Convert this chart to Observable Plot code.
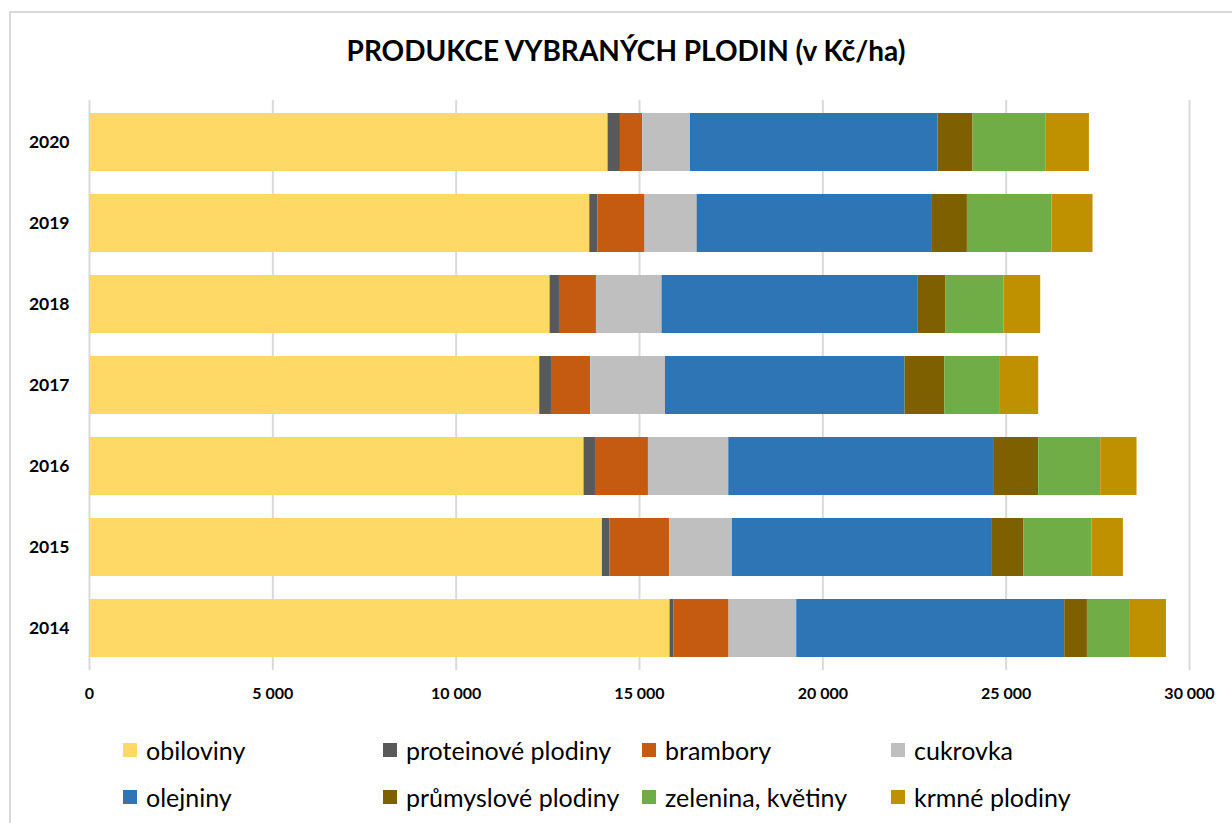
<!DOCTYPE html>
<html>
<head>
<meta charset="utf-8">
<script src="https://cdn.jsdelivr.net/npm/d3@7"></script>
<script src="https://cdn.jsdelivr.net/npm/@observablehq/plot@0.6"></script>
<style>
  html, body { margin: 0; padding: 0; background: #fff; }
  body { width: 1232px; height: 823px; position: relative; overflow: hidden; font-family: Lato, "Liberation Sans", sans-serif; }
  #frame { position: absolute; left: 9px; top: 11px; width: 1240px; height: 830px; border: 2px solid #d9d9d9; box-sizing: border-box; }
  #title { position: absolute; left: 0; width: 1252px; top: 33px; text-align: center; font-weight: 700; font-size: 28px; color: #000; }
  #chart { position: absolute; left: 0; top: 100px; }
  .lg { position: absolute; display: flex; align-items: center; font-size: 25px; color: #000; white-space: nowrap; }
  .lg span.sw { display: inline-block; width: 14px; height: 14px; margin-right: 9px; }
</style>
</head>
<body>
<div id="frame"></div>
<div id="title">PRODUKCE VYBRANÝCH PLODIN (v Kč/ha)</div>
<div id="chart"></div>
<div id="legend"></div>
<script>
const years = ["2020", "2019", "2018", "2017", "2016", "2015", "2014"];
const crops = ["obiloviny", "proteinové plodiny", "brambory", "cukrovka", "olejniny", "průmyslové plodiny", "zelenina, květiny", "krmné plodiny"];
const colors = ["#FFD966", "#595959", "#C55A11", "#BFBFBF", "#2E75B6", "#7F6000", "#70AD47", "#BF9000"];

// values per crop, in the order of years above (2020 ... 2014)
const obiloviny        = [14143, 13644, 12561, 12280, 13488, 13990, 15833];
const proteinove       = [337, 218, 256, 319, 311, 207, 101];
const brambory         = [609, 1290, 1009, 1072, 1445, 1628, 1508];
const cukrovka         = [1301, 1418, 1789, 2037, 2190, 1710, 1846];
const olejniny         = [6752, 6419, 6973, 6534, 7246, 7090, 7309];
const prumyslove       = [954, 954, 772, 1083, 1208, 862, 619];
const zelenina         = [1983, 2308, 1582, 1518, 1691, 1855, 1173];
const krmne            = [1191, 1118, 1000, 1045, 990, 855, 982];
const xTicks = [0, 5000, 10000, 15000, 20000, 25000, 30000];

const series = [obiloviny, proteinove, brambory, cukrovka, olejniny, prumyslove, zelenina, krmne];
const data = [];
crops.forEach((c, i) => years.forEach((y, j) => data.push({year: y, crop: c, value: series[i][j]})));

const fmt = d => d3.format(",")(d).replace(/,/g, "\u00a0");

const plot = Plot.plot({
  width: 1232,
  height: 620,
  marginTop: 0,
  marginBottom: 50,
  marginLeft: 89,
  marginRight: 43,
  style: { fontFamily: "Lato, 'Liberation Sans', sans-serif", color: "#000", background: "transparent" },
  x: { domain: [0, 30000] },
  y: { domain: years, paddingInner: 0.288, paddingOuter: 0.135 },
  color: { domain: crops, range: colors },
  marks: [
    Plot.gridX(xTicks, { stroke: "#d9d9d9", strokeOpacity: 1, strokeWidth: 2 }),
    Plot.barX(data, { y: "year", x: "value", fill: "crop", order: crops }),
    Plot.axisX({ ticks: xTicks, tickSize: 0, tickPadding: 17, tickFormat: fmt, fontSize: 16, fontWeight: "bold", label: null }),
    Plot.axisY({ tickSize: 0, tickPadding: 20, fontSize: 17.5, fontWeight: "bold", label: null })
  ]
});
document.getElementById("chart").appendChild(plot);

const colorScale = plot.scale("color");
const lgX = [123, 383, 642, 891];
const lgY = [750, 797];
const legend = document.getElementById("legend");
crops.forEach((c, i) => {
  const el = document.createElement("div");
  el.className = "lg";
  el.style.left = lgX[i % 4] + "px";
  el.style.top = (lgY[Math.floor(i / 4)] - 15) + "px";
  el.style.height = "30px";
  const sw = document.createElement("span");
  sw.className = "sw";
  sw.style.background = colorScale.apply(c);
  el.appendChild(sw);
  el.appendChild(document.createTextNode(c));
  legend.appendChild(el);
});
</script>
</body>
</html>
